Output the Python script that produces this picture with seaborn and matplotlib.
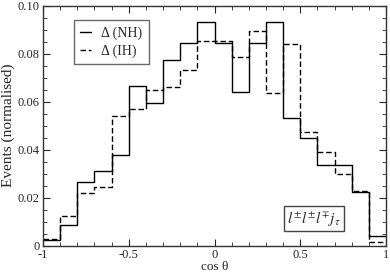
import matplotlib
matplotlib.use("Agg")
import matplotlib.pyplot as plt
import numpy as np
import seaborn as sns
from matplotlib.lines import Line2D
from matplotlib.ticker import MultipleLocator, FuncFormatter

# bin edges in cos(theta) and normalised event fractions per bin
edges = [-1.0, -0.9, -0.8, -0.7, -0.6, -0.5, -0.4, -0.3, -0.2, -0.1, 0.0,
         0.1, 0.2, 0.3, 0.4, 0.5, 0.6, 0.7, 0.8, 0.9, 1.0]
nh = [0.0024, 0.0088, 0.0264, 0.0310, 0.0377, 0.0664, 0.0596, 0.0774, 0.0843, 0.0931,
      0.0843, 0.0642, 0.0843, 0.0931, 0.0531, 0.0447, 0.0336, 0.0336, 0.0225, 0.0042]
ih = [0.0030, 0.0122, 0.0218, 0.0243, 0.0540, 0.0568, 0.0649, 0.0663, 0.0731, 0.0854,
      0.0854, 0.0785, 0.0895, 0.0635, 0.0840, 0.0475, 0.0392, 0.0299, 0.0229, 0.0014]
labels = ["\u0394 (NH)", "\u0394 (IH)"]

sns.set_style("ticks")
plt.rcParams["font.family"] = ["Liberation Serif", "DejaVu Serif"]
plt.rcParams["mathtext.fontset"] = "stix"

centers = (np.array(edges[:-1]) + np.array(edges[1:])) / 2

fig = plt.figure(figsize=(3.9, 2.73), dpi=100)
ax = fig.add_axes([0.110, 0.100, 0.880, 0.879])

sns.histplot(x=centers, weights=nh, bins=edges, element="step", fill=False,
             color="black", linewidth=1.0, ax=ax)
sns.histplot(x=centers, weights=ih, bins=edges, element="step", fill=False,
             color="black", linewidth=1.0, linestyle=(0, (4, 2)), ax=ax)

ax.set_xlim(-1, 1)
ax.set_ylim(0, 0.10)
ax.xaxis.set_major_locator(MultipleLocator(0.5))
ax.xaxis.set_minor_locator(MultipleLocator(0.1))
ax.yaxis.set_major_locator(MultipleLocator(0.02))
ax.yaxis.set_minor_locator(MultipleLocator(0.005))
ax.xaxis.set_major_formatter(FuncFormatter(lambda v, p: "%g" % v))
ax.yaxis.set_major_formatter(FuncFormatter(lambda v, p: "0" if abs(v) < 1e-9 else "%.2f" % v))
ax.tick_params(which="both", direction="in", top=True, right=True, labelsize=9, pad=2.5)
ax.tick_params(which="major", length=5)
ax.tick_params(which="minor", length=3)
for s in ax.spines.values():
    s.set_linewidth(1.0)
    s.set_color("#333333")

ax.set_xlabel("cos \u03b8", fontsize=9.5, labelpad=0)
ax.set_ylabel("Events (normalised)", fontsize=11, labelpad=1.5)

handles = [Line2D([], [], color="black", lw=1.0),
           Line2D([], [], color="black", lw=1.0, linestyle=(0, (4, 2)))]
leg = ax.legend(handles, labels, loc="upper left", bbox_to_anchor=(0.091, 0.94),
                fontsize=10, frameon=True, fancybox=False, handlelength=0.8,
                handletextpad=0.7, borderpad=0.45, labelspacing=0.35,
                borderaxespad=0)
leg.get_frame().set_edgecolor("#444444")
leg.get_frame().set_linewidth(1.0)

ax.text(0.789, 0.115, r"$l^{\pm}l^{\pm}l^{\mp}j_{\tau}$", transform=ax.transAxes,
        fontsize=11, ha="center", va="center",
        bbox=dict(boxstyle="square,pad=0.2", fc="white", ec="#444444", lw=1.0))

fig.savefig("out.png", dpi=100)
